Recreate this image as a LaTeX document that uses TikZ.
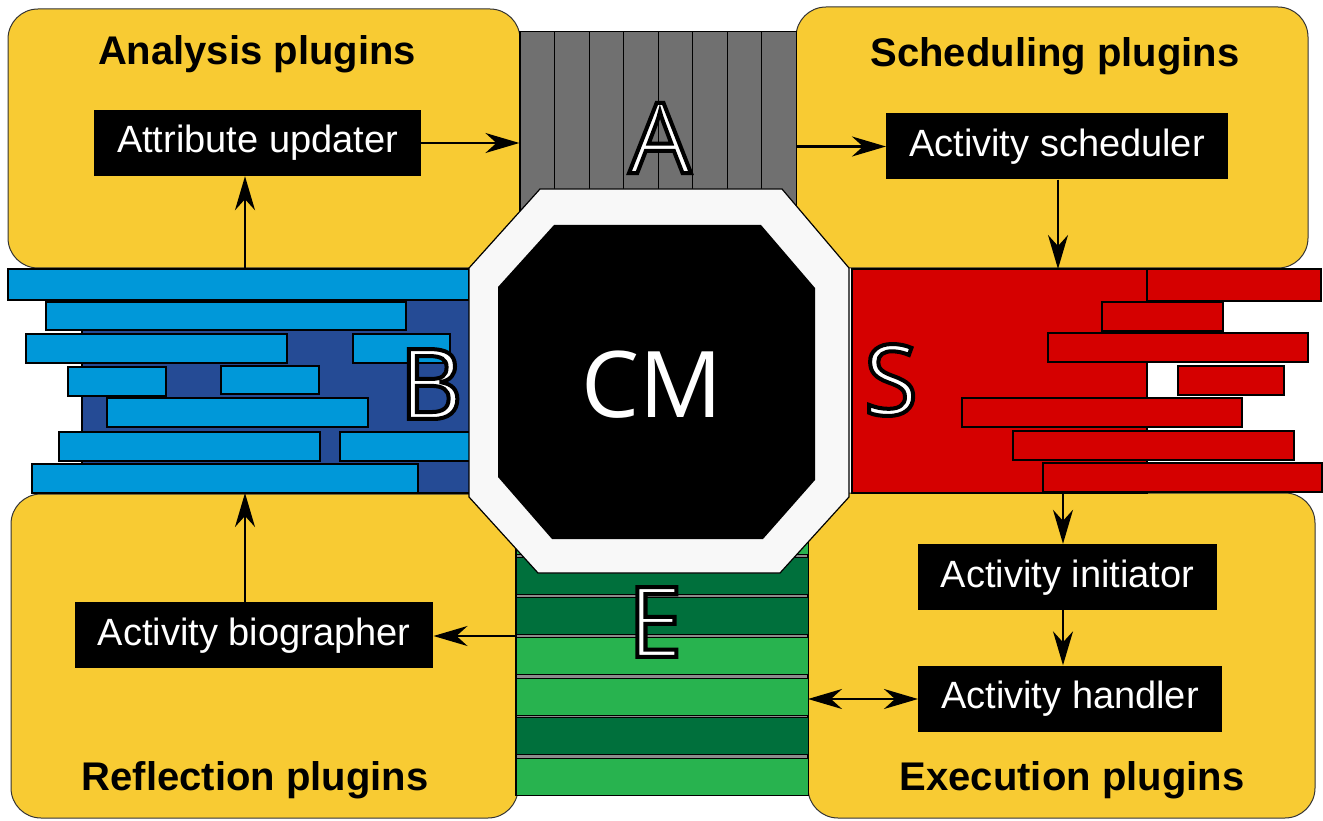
\documentclass[tikz,border=0pt]{standalone}
\usepackage{fontspec}
\setmainfont{Liberation Sans}
\newfontfamily\lettrfont{Open Sans}
\usetikzlibrary{arrows.meta}
\definecolor{plugyellow}{HTML}{F8CB33}
\definecolor{acqgray}{HTML}{707070}
\definecolor{bdark}{HTML}{254B95}
\definecolor{blight}{HTML}{0098D9}
\definecolor{sred}{HTML}{D50000}
\definecolor{gdark}{HTML}{00703C}
\definecolor{glight}{HTML}{28B34F}
\definecolor{ring}{HTML}{F8F8F8}
\tikzset{
  panel/.style={draw=black!80, line width=1pt, fill=plugyellow, rounded corners=30pt, inner sep=0pt},
  title/.style={font=\fontsize{40}{44}\selectfont\bfseries, anchor=base},
  comp/.style={fill=black, text=white, font=\fontsize{38}{42}\selectfont, inner xsep=23pt,
    minimum height=66pt, text height=28pt, text depth=8pt},
  region/.style={draw=black, line width=1.2pt, inner sep=0pt},
  bar/.style={draw=black, line width=1.2pt},
  arr/.style={-{Stealth[length=34pt,width=20pt,inset=11pt]}, line width=2.2pt},
  big/.style={font=\lettrfont\fontsize{98}{100}\selectfont, inner sep=0pt},
}
\newcommand\ringtext[3]{%
  \node[big, text=white] (#2) at (#1)
    {\special{pdf:literal direct 0 G 4 w 2 Tr}#3\special{pdf:literal direct 0 Tr}};}
\begin{document}
\begin{tikzpicture}[x=1pt,y=-1pt]
\useasboundingbox (0,0) rectangle (1323,821);

\node[panel, minimum width=512pt, minimum height=259pt] (anap) at (264,138.5) {};
\node[panel, minimum width=512pt, minimum height=261pt] (schp) at (1052,137.5) {};
\node[panel, minimum width=507pt, minimum height=324pt] (refp) at (264.5,656) {};
\node[panel, minimum width=507pt, minimum height=325pt] (exep) at (1061.5,655.5) {};

\node[region, fill=acqgray, minimum width=276pt, minimum height=180pt] (A) at (658,122) {};
\foreach \i in {0,...,7}
  \draw[bar, line width=1pt, fill=acqgray] (520+34.5*\i,32) rectangle ++(34.5,180);

\node[region, fill=bdark, minimum width=388pt, minimum height=193pt] (B) at (276,396.5) {};
\foreach \xa/\ya/\xb/\yb in {8/269/469/300, 46/302/406/330, 26/334/287/363, 353/334/450/363,
    68/367/166/396, 221/366/319/394, 107/398/368/427, 59/432/320/461, 340/432/470/461, 32/464/418/493}
  \draw[bar, fill=blight] (\xa,\ya) rectangle (\xb,\yb);

\node[region, fill=sred, minimum width=295pt, minimum height=224pt] (S) at (999.5,381) {};
\foreach \xa/\ya/\xb/\yb in {1147/269/1321/301, 1102/302/1223/331, 1048/333/1308/362,
    1178/366/1284/395, 962/398/1242/427, 1013/431/1294/460, 1043/463/1322/492}
  \draw[bar, fill=sred] (\xa,\ya) rectangle (\xb,\yb);

\node[region, fill=black!45, minimum width=292pt, minimum height=278pt] (E) at (662,656) {};
\foreach \y/\c in {517/glight, 557/gdark, 597/gdark, 637/glight, 678/glight, 717/gdark, 758/glight}
  \draw[bar, line width=1pt, fill=\c] (516,\y) rectangle (808,\y+37.5);

\draw[line width=1.2pt, fill=ring] (540,189) -- (782,189) -- (849,268) -- (849,497) -- (780,573)
  -- (538,573) -- (469,497) -- (469,268) -- cycle;
\fill[black] (554,225) -- (761,225) -- (815,288) -- (815,480) -- (763,539) -- (552,539)
  -- (498,477) -- (498,287) -- cycle;
\node[big, text=white, font=\lettrfont\fontsize{92}{94}\selectfont] (cm) at (652,385) {CM};

\ringtext{660,138}{la}{A}
\ringtext{431,384}{lb}{B}
\ringtext{891,380}{ls}{S}
\ringtext{655,622}{le}{E}

\node[title] at (257,65) {Analysis plugins};
\node[title] at (1055,67) {Scheduling plugins};
\node[title] at (255,790) {Reflection plugins};
\node[title] at (1072,790) {Execution plugins};

\node[comp] (upd) at (257.5,143) {Attribute updater};
\node[comp] (scd) at (1057,146.5) {Activity scheduler};
\node[comp] (bio) at (254,635) {Activity biographer};
\node[comp] (ini) at (1067.5,577) {Activity initiator};
\node[comp] (hdl) at (1070,698.5) {Activity handler};

\coordinate (bt) at (245,269);
\coordinate (bb) at (245,493);
\coordinate (st) at (1058,269);
\coordinate (sb) at (1063,493);
\coordinate (ew) at (516,636);
\coordinate (ee) at (808,699);

\draw[arr] (upd.east) -- (upd.east -| A.west);
\draw[arr] (A.east |- scd.west) -- (scd.west);
\draw[arr] (bt) -- (bt |- upd.south);
\draw[arr] (bio.north -| bb) -- (bb);
\draw[arr] (ew) -- (ew -| bio.east);
\draw[arr] (scd.south -| st) -- (st);
\draw[arr] (sb) -- (sb |- ini.north);
\draw[arr] (ini.south -| sb) -- (sb |- hdl.north);
\draw[arr, {Stealth[length=34pt,width=20pt,inset=11pt]}-{Stealth[length=34pt,width=20pt,inset=11pt]}] (ee) -- (ee -| hdl.west);
\end{tikzpicture}
\end{document}
